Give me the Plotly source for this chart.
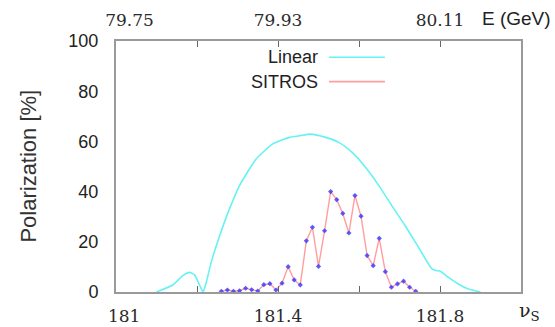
import plotly.graph_objects as go

# Linear calculation (cyan)
nu_linear = [181.100, 181.141, 181.165, 181.182, 181.194, 181.205, 181.215, 181.223,
             181.235, 181.256, 181.280, 181.305, 181.346, 181.387, 181.428, 181.455,
             181.480, 181.518, 181.550, 181.583, 181.616, 181.649, 181.681, 181.714,
             181.747, 181.780, 181.792, 181.800, 181.821, 181.845, 181.870, 181.900]
pol_linear = [0, 2.9, 6.5, 7.8, 6.8, 3.2, 0, 3.9,
              11.8, 22.4, 33.0, 42.4, 53.0, 59.0, 61.6, 62.3,
              62.9, 61.6, 59.6, 55.6, 49.7, 42.4, 34.4, 26.4,
              17.8, 9.2, 8.5, 8.4, 5.8, 3.2, 1.2, 0]

# SITROS simulation (pink line, blue points)
nu_sitros = [181.260, 181.275, 181.290, 181.305, 181.320, 181.335, 181.350, 181.365,
             181.380, 181.395, 181.410, 181.425, 181.440, 181.455, 181.470, 181.485,
             181.500, 181.515, 181.530, 181.545, 181.560, 181.575, 181.590, 181.605,
             181.620, 181.635, 181.650, 181.665, 181.680, 181.695, 181.710, 181.725,
             181.740]
pol_sitros = [0.3, 0.8, 0.3, 0.5, 1.5, 0.9, 0.4, 2.9,
              3.3, 0.8, 3.5, 10.1, 4.8, 2.8, 20.4, 25.8,
              10.2, 24.4, 40.0, 36.8, 31.3, 23.5, 38.4, 30.2,
              14.5, 10.5, 21.4, 8.1, 1.9, 3.2, 4.3, 1.9,
              0.3]

# Axes ticks
x_tick_vals = [181.0, 181.4, 181.8]
x_tick_text = ["\u00a0\u00a0\u00a0181", "181.4", "181.8"]
top_tick_vals = [181.0, 181.4, 181.8]
top_tick_text = ["\u00a0\u00a0\u00a0\u00a0\u00a079.75", "79.93", "80.11"]
y_tick_vals = [0, 20, 40, 60, 80, 100]

CYAN = "#66f2f2"
PINK = "#ff9e9e"
BLUE = "#3535ff"
serif = "DejaVu Serif"
sans = "Liberation Sans"

fig = go.Figure()
fig.add_trace(go.Scatter(x=nu_linear, y=pol_linear, xaxis="x2", mode="lines",
                         line=dict(color=CYAN, width=1.6, shape="spline", smoothing=0.5),
                         name="Linear", showlegend=False))
fig.add_trace(go.Scatter(x=nu_sitros, y=pol_sitros, mode="lines",
                         line=dict(color=PINK, width=1.4), name="SITROS", showlegend=False))
fig.add_trace(go.Scatter(x=nu_sitros, y=pol_sitros, mode="markers", cliponaxis=False,
                         marker=dict(color=BLUE, size=4, symbol="diamond", opacity=0.8),
                         showlegend=False, hoverinfo="skip"))

fig.update_layout(
    width=555, height=327,
    margin=dict(l=116, r=34, t=41, b=35, autoexpand=False),
    paper_bgcolor="white", plot_bgcolor="white",
    xaxis=dict(range=[181.0, 182.0], tickvals=x_tick_vals, ticktext=x_tick_text,
               ticks="inside", ticklen=6, tickcolor="#666", tickwidth=1,
               minor=dict(tick0=181.0, dtick=0.2, ticks="inside", ticklen=6,
                          tickcolor="#666", tickwidth=1, showgrid=False),
               showline=True, linecolor="#9a9a9a", linewidth=2, mirror="ticks",
               showgrid=False, zeroline=False, automargin=False,
               tickfont=dict(family=serif, size=17, color="#2b2b2b"),
               ticklabelstandoff=8),
    xaxis2=dict(range=[181.0, 182.0], overlaying="x", side="top",
                tickvals=top_tick_vals, ticktext=top_tick_text, ticks="",
                showline=False, showgrid=False, zeroline=False, automargin=False,
                tickfont=dict(family=serif, size=17, color="#2b2b2b"),
                ticklabelstandoff=11),
    yaxis=dict(range=[0, 100], tickvals=y_tick_vals, ticks="",
               showline=True, linecolor="#9a9a9a", linewidth=2, mirror=True,
               showgrid=False, zeroline=False, automargin=False,
               tickfont=dict(family=sans, size=18, color="#222"),
               ticklabelstandoff=12),
)

ann = [
    dict(text="Polarization [%]", x=-0.217, y=0.5, xref="paper", yref="paper",
         xanchor="center", yanchor="middle",
         textangle=-90, showarrow=False, font=dict(family=sans, size=22, color="#333")),
    dict(text="E (GeV)", x=0.988, y=1.09, xref="paper", yref="paper",
         xanchor="center", yanchor="middle",
         showarrow=False, font=dict(family=sans, size=19, color="#222")),
    dict(text="\u03bd<sub>S</sub>", x=1.022, y=-0.078, xref="paper", yref="paper",
         xanchor="center", yanchor="middle",
         showarrow=False, font=dict(family=serif, size=19, color="#222")),
    dict(text="Linear", x=0.504, y=0.935, xref="paper", yref="paper", xanchor="right",
         yanchor="middle", showarrow=False, font=dict(family=sans, size=18, color="#222")),
    dict(text="SITROS", x=0.504, y=0.838, xref="paper", yref="paper", xanchor="right",
         yanchor="middle", showarrow=False, font=dict(family=sans, size=18, color="#222")),
]
fig.update_layout(annotations=ann)
fig.add_shape(type="line", xref="paper", yref="paper", x0=0.526, x1=0.664, y0=0.935, y1=0.935,
              line=dict(color=CYAN, width=1.6))
fig.add_shape(type="line", xref="paper", yref="paper", x0=0.526, x1=0.664, y0=0.838, y1=0.838,
              line=dict(color=PINK, width=1.6))

fig.write_html("out.html")
